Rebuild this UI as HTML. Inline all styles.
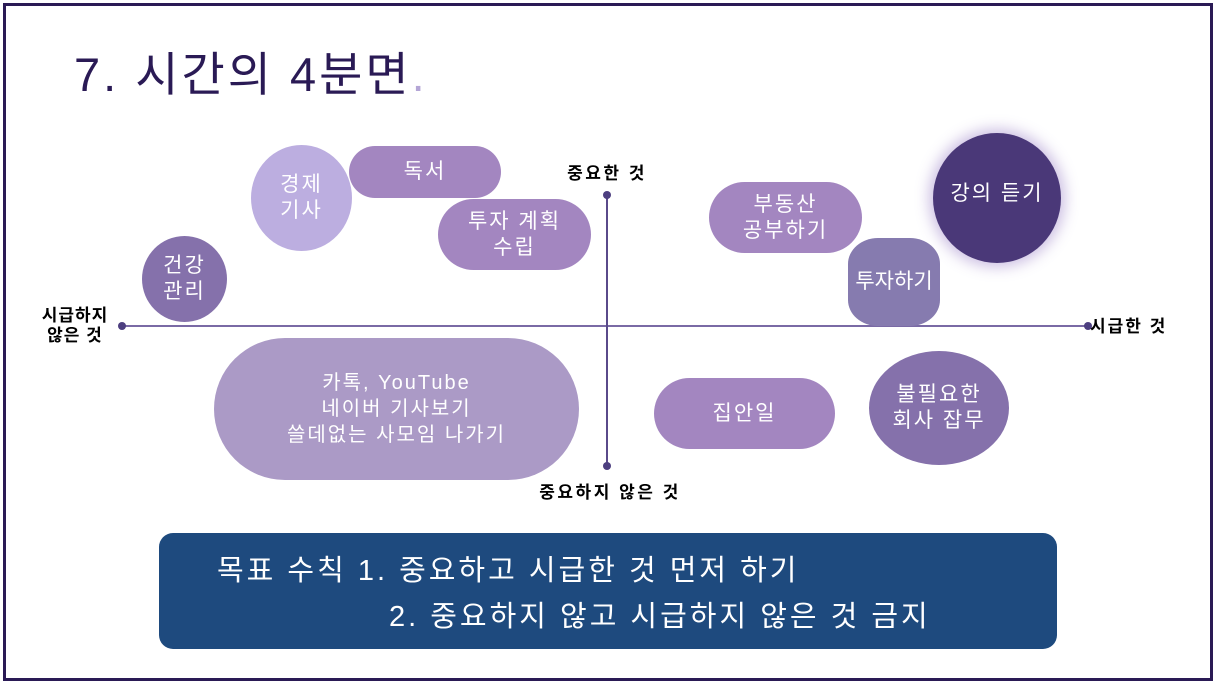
<!DOCTYPE html>
<html><head><meta charset="utf-8"><style>
body{margin:0;width:1216px;height:684px;background:#fff;position:relative;overflow:hidden;font-family:"Liberation Sans","Noto Sans CJK KR",sans-serif}
.frame{position:absolute;left:3px;top:3px;width:1204px;height:672px;border:3px solid #2a1a55}
.s{position:absolute;display:flex;align-items:center;justify-content:center;text-align:center;color:#fff;font-size:21px;line-height:26px;letter-spacing:2px}
.l{position:absolute;font-weight:bold;font-size:17px;color:#000;line-height:20px;text-align:center;letter-spacing:2.5px}
</style></head><body>
<div class="frame"></div>
<div style="position:absolute;left:74px;top:46px;font-size:47px;color:#2a1a55;line-height:58px;letter-spacing:3px">7. 시간의 4분면<span style="color:#b4a6d6">.</span></div>

<svg style="position:absolute;left:0;top:0" width="1216" height="684">
<line x1="122" y1="326" x2="1088" y2="326" stroke="#7a6aa5" stroke-width="2"/>
<line x1="607" y1="195" x2="607" y2="466" stroke="#5a4a8a" stroke-width="2"/>
<circle cx="122" cy="326" r="4" fill="#4d3f80"/><circle cx="1088" cy="326" r="4" fill="#4d3f80"/>
<circle cx="607" cy="195" r="4" fill="#4d3f80"/><circle cx="607" cy="466" r="4" fill="#4d3f80"/>
</svg>

<div class="s" style="left:251px;top:145px;width:101px;height:106px;border-radius:50%;background:#bcaee0">경제<br>기사</div>
<div class="s" style="left:349px;top:146px;width:152px;height:52px;border-radius:26px;background:#a386c0">독서</div>
<div class="s" style="left:438px;top:199px;width:153px;height:71px;border-radius:36px;background:#a386c0">투자 계획<br>수립</div>
<div class="s" style="left:142px;top:236px;width:85px;height:86px;border-radius:50%;background:#8571ab">건강<br>관리</div>
<div class="s" style="left:214px;top:338px;width:365px;height:142px;border-radius:71px;background:#ab9ac6;font-size:20px;line-height:26px">카톡, YouTube<br>네이버 기사보기<br>쓸데없는 사모임 나가기</div>
<div class="s" style="left:709px;top:182px;width:153px;height:71px;border-radius:36px;background:#a386c0">부동산<br>공부하기</div>
<div class="s" style="left:933px;top:133px;width:128px;height:130px;border-radius:50%;background:#4a3878;box-shadow:0 0 14px 4px rgba(140,110,190,.45);align-items:flex-start"><span style="margin-top:48px">강의 듣기</span></div>
<div class="s" style="left:848px;top:238px;width:92px;height:88px;border-radius:30px/26px;background:#867baf;letter-spacing:0">투자하기</div>
<div class="s" style="left:654px;top:378px;width:181px;height:71px;border-radius:36px;background:#a386c0">집안일</div>
<div class="s" style="left:869px;top:351px;width:140px;height:114px;border-radius:50%;background:#8571ab">불필요한<br>회사 잡무</div>

<div class="l" style="left:550px;top:164px;width:114px">중요한 것</div>
<div class="l" style="left:510px;top:483px;width:200px">중요하지 않은 것</div>
<div class="l" style="left:30px;top:306px;width:90px;letter-spacing:1px">시급하지<br>않은 것</div>
<div class="l" style="left:1090px;top:317px;width:100px;text-align:left;letter-spacing:2px">시급한 것</div>

<div style="position:absolute;left:159px;top:533px;width:898px;height:116px;border-radius:14px;background:#1e4a7e;color:#fff;font-size:29px;line-height:36px;letter-spacing:3px">
<div style="position:absolute;left:58px;top:20px;white-space:nowrap">목표 수칙 1. 중요하고 시급한 것 먼저 하기</div>
<div style="position:absolute;left:230px;top:66px;white-space:nowrap">2. 중요하지 않고 시급하지 않은 것 금지</div>
</div>
</body></html>
